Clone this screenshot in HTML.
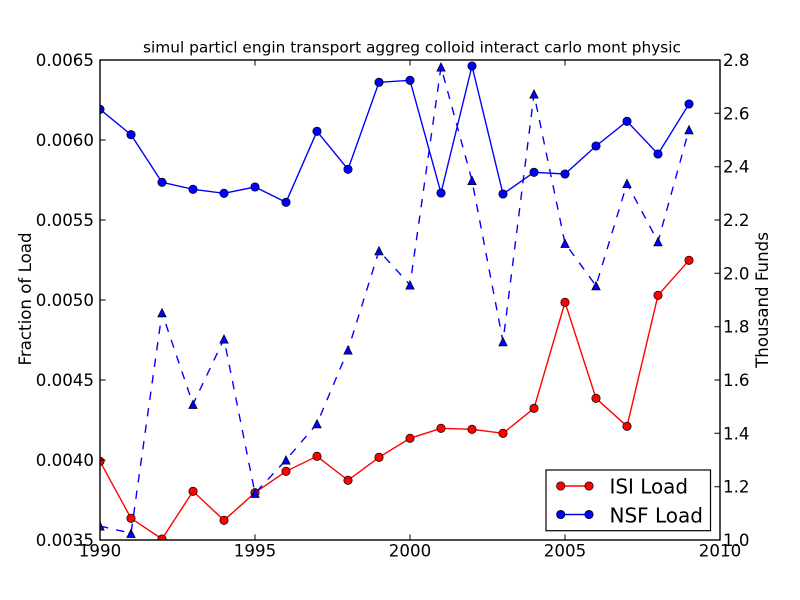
<!DOCTYPE html>
<html><head><meta charset="utf-8"><style>
html,body{margin:0;padding:0;background:#fff;}
svg{display:block;}
text{font-family:"DejaVu Sans","Liberation Sans",sans-serif;fill:#000;}
</style></head><body>
<svg width="800" height="600" viewBox="0 0 800 600" xmlns="http://www.w3.org/2000/svg">
<defs>
<clipPath id="c"><rect x="100" y="60" width="620" height="480"/></clipPath>
<circle id="cr" r="4.2" fill="#ff0000" stroke="#000" stroke-width="0.7"/>
<circle id="cb" r="4.2" fill="#0000ff" stroke="#000" stroke-width="0.7"/>
<path id="tr" d="M0,-4.17 L4.17,4.17 L-4.17,4.17 Z" fill="#0000ff" stroke="#000" stroke-width="0.7"/>
</defs>
<rect x="0" y="0" width="800" height="600" fill="#fff"/>

<g clip-path="url(#c)">
<polyline fill="none" stroke="#ff0000" stroke-width="1.39" points="100,461.3 131,518.3 162,539 193,491.3 224,520.3 255,492.7 286,471.3 317,456.3 348,480.3 379,457.3 410,438.3 441,428.3 472,429.3 503,433.3 534,408.3 565,302.3 596,398.3 627,426.3 658,295.3 689,260.3"/>
<use href="#cr" x="100" y="461.3"/><use href="#cr" x="131" y="518.3"/><use href="#cr" x="162" y="539"/><use href="#cr" x="193" y="491.3"/><use href="#cr" x="224" y="520.3"/><use href="#cr" x="255" y="492.7"/><use href="#cr" x="286" y="471.3"/><use href="#cr" x="317" y="456.3"/><use href="#cr" x="348" y="480.3"/><use href="#cr" x="379" y="457.3"/><use href="#cr" x="410" y="438.3"/><use href="#cr" x="441" y="428.3"/><use href="#cr" x="472" y="429.3"/><use href="#cr" x="503" y="433.3"/><use href="#cr" x="534" y="408.3"/><use href="#cr" x="565" y="302.3"/><use href="#cr" x="596" y="398.3"/><use href="#cr" x="627" y="426.3"/><use href="#cr" x="658" y="295.3"/><use href="#cr" x="689" y="260.3"/>
<polyline fill="none" stroke="#0000ff" stroke-width="1.39" points="100,109.3 131,134.7 162,182.3 193,189.3 224,193.3 255,187 286,202.3 317,131.3 348,169.3 379,82.3 410,80.3 441,193 472,66 503,194 534,172.3 565,174 596,146 627,121.3 658,154 689,104"/>
<use href="#cb" x="100" y="109.3"/><use href="#cb" x="131" y="134.7"/><use href="#cb" x="162" y="182.3"/><use href="#cb" x="193" y="189.3"/><use href="#cb" x="224" y="193.3"/><use href="#cb" x="255" y="187"/><use href="#cb" x="286" y="202.3"/><use href="#cb" x="317" y="131.3"/><use href="#cb" x="348" y="169.3"/><use href="#cb" x="379" y="82.3"/><use href="#cb" x="410" y="80.3"/><use href="#cb" x="441" y="193"/><use href="#cb" x="472" y="66"/><use href="#cb" x="503" y="194"/><use href="#cb" x="534" y="172.3"/><use href="#cb" x="565" y="174"/><use href="#cb" x="596" y="146"/><use href="#cb" x="627" y="121.3"/><use href="#cb" x="658" y="154"/><use href="#cb" x="689" y="104"/>
<polyline fill="none" stroke="#0000ff" stroke-width="1.39" stroke-dasharray="8.33 8.33" points="100,526 131,533.3 162,312.7 193,404.3 224,339 255,493.3 286,460 317,423.7 348,350 379,250.7 410,285 441,67 472,180.5 503,341.7 534,94 565,243.3 596,285.7 627,183.5 658,241.7 689,129.7"/>
<use href="#tr" x="100" y="526"/><use href="#tr" x="131" y="533.3"/><use href="#tr" x="162" y="312.7"/><use href="#tr" x="193" y="404.3"/><use href="#tr" x="224" y="339"/><use href="#tr" x="255" y="493.3"/><use href="#tr" x="286" y="460"/><use href="#tr" x="317" y="423.7"/><use href="#tr" x="348" y="350"/><use href="#tr" x="379" y="250.7"/><use href="#tr" x="410" y="285"/><use href="#tr" x="441" y="67"/><use href="#tr" x="472" y="180.5"/><use href="#tr" x="503" y="341.7"/><use href="#tr" x="534" y="94"/><use href="#tr" x="565" y="243.3"/><use href="#tr" x="596" y="285.7"/><use href="#tr" x="627" y="183.5"/><use href="#tr" x="658" y="241.7"/><use href="#tr" x="689" y="129.7"/>
</g>

<g stroke="#000" stroke-width="1" fill="none">
<path d="M255,540v-5.6M410,540v-5.6M565,540v-5.6M255,60v5.6M410,60v5.6M565,60v5.6"/>
<path d="M100,140h5.6M100,220h5.6M100,300h5.6M100,380h5.6M100,460h5.6"/>
<path d="M720,113.3h-5.6M720,166.7h-5.6M720,220h-5.6M720,273.3h-5.6M720,326.7h-5.6M720,380h-5.6M720,433.3h-5.6M720,486.7h-5.6"/>
</g>
<rect x="100" y="60" width="620" height="480" fill="none" stroke="#000" stroke-width="1.4"/>

<g font-size="16.67" text-anchor="end">
<text x="94" y="66">0.0065</text>
<text x="94" y="146">0.0060</text>
<text x="94" y="226">0.0055</text>
<text x="94" y="306">0.0050</text>
<text x="94" y="386">0.0045</text>
<text x="94" y="466">0.0040</text>
<text x="94" y="546">0.0035</text>
</g>
<g font-size="16.67" text-anchor="start">
<text x="723" y="66">2.8</text>
<text x="723" y="119.3">2.6</text>
<text x="723" y="172.7">2.4</text>
<text x="723" y="226">2.2</text>
<text x="723" y="279.3">2.0</text>
<text x="723" y="332.7">1.8</text>
<text x="723" y="386">1.6</text>
<text x="723" y="439.3">1.4</text>
<text x="723" y="492.7">1.2</text>
<text x="723" y="546">1.0</text>
</g>
<g font-size="16.67" text-anchor="middle">
<text x="100" y="556.5">1990</text>
<text x="255" y="556.5">1995</text>
<text x="410" y="556.5">2000</text>
<text x="565" y="556.5">2005</text>
<text x="720" y="556.5">2010</text>
</g>

<text x="412" y="52.5" font-size="15.28" text-anchor="middle" textLength="538" lengthAdjust="spacingAndGlyphs">simul particl engin transport aggreg colloid interact carlo mont physic</text>

<text transform="translate(31,299) rotate(-90)" font-size="16.67" text-anchor="middle">Fraction of Load</text>
<text transform="translate(768,300) rotate(-90)" font-size="16.67" text-anchor="middle">Thousand Funds</text>

<rect x="546" y="470" width="164.5" height="60.7" fill="#fff" stroke="#000" stroke-width="1.2"/>
<line x1="560.7" y1="486" x2="589" y2="486" stroke="#ff0000" stroke-width="1.39"/>
<use href="#cr" x="560.7" y="486"/><use href="#cr" x="589" y="486"/>
<line x1="560.7" y1="514.5" x2="589" y2="514.5" stroke="#0000ff" stroke-width="1.39"/>
<use href="#cb" x="560.7" y="514.5"/><use href="#cb" x="589" y="514.5"/>
<text x="609.5" y="493.3" font-size="20" textLength="78.5" lengthAdjust="spacingAndGlyphs">ISI Load</text>
<text x="609.5" y="522.5" font-size="20" textLength="93.5" lengthAdjust="spacingAndGlyphs">NSF Load</text>
</svg>
</body></html>
